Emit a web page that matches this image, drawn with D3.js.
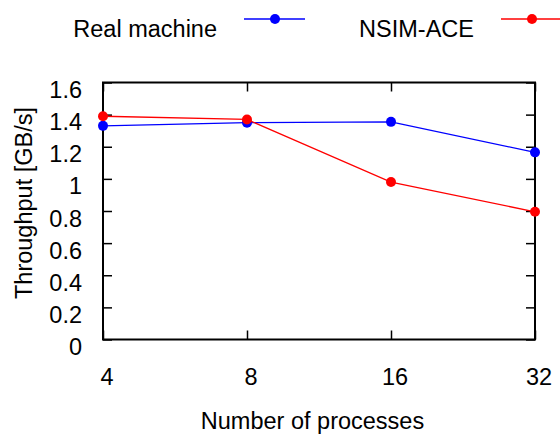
<!DOCTYPE html>
<html>
<head>
<meta charset="utf-8">
<script src="https://cdn.jsdelivr.net/npm/d3@7"></script>
<style>
  body { margin: 0; background: #fff; }
  text { font-family: "Liberation Sans", Arial, sans-serif; fill: #000; }
</style>
</head>
<body>
<div id="chart"></div>
<script>
// data
const processes = ["4", "8", "16", "32"];
const realMachine = [1.33, 1.35, 1.355, 1.165];
const nsimAce = [1.39, 1.37, 0.98, 0.795];
const yTicks = [0, 0.2, 0.4, 0.6, 0.8, 1, 1.2, 1.4, 1.6];

const series = [
    { name: "Real machine", values: realMachine, color: "#0000ff" },
    { name: "NSIM-ACE", values: nsimAce, color: "#ff0000" }
];

const W = 560, H = 434;
const margin = { top: 82.5, right: 25, bottom: 94.5, left: 103 };
const width = W - margin.left - margin.right;
const height = H - margin.top - margin.bottom;
const fontSize = "23.5px";

const svg = d3.select("#chart")
    .append("svg")
    .attr("width", W)
    .attr("height", H);

const g = svg.append("g")
    .attr("transform", `translate(${margin.left},${margin.top})`);

// escalas
const x = d3.scalePoint()
    .domain(processes)
    .range([0, width]);

const y = d3.scaleLinear()
    .domain([0, 1.6])
    .range([height, 0]);

const tickLen = 9;

// ticks on all four sides (inward)
g.append("g")
    .call(d3.axisLeft(y).tickValues(yTicks).tickSizeInner(-tickLen).tickSizeOuter(0).tickFormat(""))
    .call(a => a.select(".domain").remove());
g.append("g")
    .attr("transform", `translate(${width},0)`)
    .call(d3.axisRight(y).tickValues(yTicks).tickSizeInner(-tickLen).tickSizeOuter(0).tickFormat(""))
    .call(a => a.select(".domain").remove());
g.append("g")
    .attr("transform", `translate(0,${height})`)
    .call(d3.axisBottom(x).tickSizeInner(-tickLen).tickSizeOuter(0).tickFormat(""))
    .call(a => a.select(".domain").remove());
g.append("g")
    .call(d3.axisTop(x).tickSizeInner(-tickLen).tickSizeOuter(0).tickFormat(""))
    .call(a => a.select(".domain").remove());
g.selectAll(".tick line").attr("stroke", "#000").attr("stroke-width", 1.5);

// tick labels
g.selectAll(".ylab")
    .data(yTicks)
    .enter()
    .append("text")
    .attr("x", -21)
    .attr("y", d => y(d) + 15.5)
    .attr("text-anchor", "end")
    .style("font-size", fontSize)
    .text(d => d);

g.selectAll(".xlab")
    .data(processes)
    .enter()
    .append("text")
    .attr("x", d => x(d) + 4)
    .attr("y", height + 45.5)
    .attr("text-anchor", "middle")
    .style("font-size", fontSize)
    .text(d => d);

// frame
g.append("rect")
    .attr("width", width)
    .attr("height", height)
    .attr("fill", "none")
    .attr("stroke", "#000")
    .attr("stroke-width", 2);

// lines + markers
const line = d3.line()
    .x((d, i) => x(processes[i]))
    .y(d => y(d));

series.forEach(s => {
    g.append("path")
        .datum(s.values)
        .attr("d", line)
        .attr("fill", "none")
        .attr("stroke", s.color)
        .attr("stroke-width", 1.3);
    g.selectAll(null)
        .data(s.values)
        .enter()
        .append("circle")
        .attr("cx", (d, i) => x(processes[i]))
        .attr("cy", d => y(d))
        .attr("r", 5)
        .attr("fill", s.color);
});

// axis titles
svg.append("text")
    .attr("x", 312.5)
    .attr("y", 428.5)
    .attr("text-anchor", "middle")
    .style("font-size", fontSize)
    .text("Number of processes");

svg.append("text")
    .attr("transform", "translate(31.5,203) rotate(-90)")
    .attr("text-anchor", "middle")
    .style("font-size", fontSize)
    .text("Throughput [GB/s]");

// legend
const legend = [
    { textEnd: 217, lineStart: 244 },
    { textEnd: 474, lineStart: 501 }
];
series.forEach((s, i) => {
    const l = legend[i];
    svg.append("text")
        .attr("x", l.textEnd)
        .attr("y", 36.5)
        .attr("text-anchor", "end")
        .style("font-size", fontSize)
        .text(s.name);
    svg.append("line")
        .attr("x1", l.lineStart)
        .attr("x2", l.lineStart + 61)
        .attr("y1", 19)
        .attr("y2", 19)
        .attr("stroke", s.color)
        .attr("stroke-width", 1.3);
    svg.append("circle")
        .attr("cx", l.lineStart + 31)
        .attr("cy", 19)
        .attr("r", 5)
        .attr("fill", s.color);
});
</script>
</body>
</html>
